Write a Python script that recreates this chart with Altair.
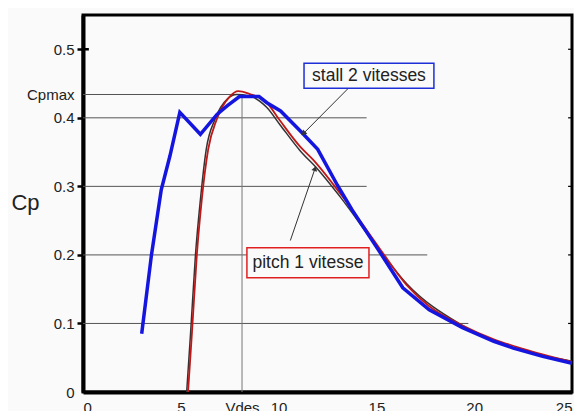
import altair as alt
import pandas as pd

# ---- data ----
stall_x = [3.0, 3.5, 4.0, 4.45, 4.95, 6.0, 6.85, 7.4, 8.0, 9.0, 9.4, 10.1, 11.1, 12.0, 13.0, 13.75, 15.2, 16.35, 17.7, 19.4, 21.0, 22.0, 23.5, 25.0]
stall_y = [0.085, 0.20, 0.295, 0.345, 0.408, 0.376, 0.405, 0.418, 0.431, 0.431, 0.422, 0.410, 0.381, 0.354, 0.302, 0.266, 0.203, 0.152, 0.120, 0.094, 0.074, 0.064, 0.052, 0.042]

pitch_x = [5.37, 5.57, 5.82, 6.07, 6.4, 6.84, 7.5, 7.94, 8.5, 9.4, 10.07, 11.1, 11.76, 13.14, 15.2, 16.55, 17.7, 19.4, 21.0, 22.5, 25.0]
pitch_y = [0.0, 0.086, 0.20, 0.28, 0.354, 0.398, 0.431, 0.439, 0.435, 0.422, 0.396, 0.358, 0.339, 0.29, 0.208, 0.156, 0.125, 0.097, 0.077, 0.063, 0.044]

pitch2_x = [5.3, 5.5, 5.75, 6.0, 6.3, 6.75, 7.4, 7.85, 8.5, 9.4, 10.07, 11.1, 12.0, 13.14, 15.2, 16.55, 19.4, 25.0]
pitch2_y = [0.0, 0.086, 0.2, 0.28, 0.354, 0.398, 0.428, 0.434, 0.432, 0.415, 0.39, 0.352, 0.325, 0.285, 0.205, 0.158, 0.097, 0.045]

cpmax = 0.434
vdes = 8.13
y_ticks = [0, 0.1, 0.2, 0.3, 0.4, 0.5, cpmax]
x_ticks = [0, 5, vdes, 10, 15, 20, 25]

grid_y = [0.1, 0.2, 0.3, 0.4, cpmax]
grid_xend = [19.7, 17.6, 14.5, 14.5, vdes]
right_ticks = [0.1, 0.2, 0.3, 0.4, 0.5]

labels = ["stall 2 vitesses", "pitch 1 vitesse"]
label_colors = ["#1f2fd8", "#e02020"]

BG = "#fafafa"
FONT = "Liberation Sans"

xs = alt.Scale(domain=[0, 25], nice=False, zero=False)
ys = alt.Scale(domain=[0, 0.55], nice=False)

df_stall = pd.DataFrame({"x": stall_x, "y": stall_y})
df_pitch = pd.DataFrame({"x": pitch_x, "y": pitch_y})
df_pitch2 = pd.DataFrame({"x": pitch2_x, "y": pitch2_y})
df_grid = pd.DataFrame({"x0": [0] * len(grid_y), "x1": grid_xend, "y": grid_y})

x_axis = alt.Axis(
    values=x_ticks, title=None, grid=False, format="~g",
    labelExpr=f"abs(datum.value-{vdes})<0.01 ? 'Vdes' : datum.label",
    domainWidth=4, domainColor="black", tickSize=0, labelPadding=8,
    labelFont=FONT, labelFontSize=15, labelColor="#222",
)
y_axis = alt.Axis(
    values=y_ticks, title="Cp", grid=False, format=".1~f",
    labelExpr=f"abs(datum.value-{cpmax})<0.001 ? 'Cpmax' : datum.label",
    domainWidth=4, domainColor="black", tickSize=6, tickWidth=2.5, tickColor="black",
    tickOpacity={"condition": {"test": f"abs(datum.value-{cpmax})<0.001 || datum.value==0", "value": 0}, "value": 1},
    labelPadding=3, labelFont=FONT, labelFontSize=15, labelColor="#222",
    titleAngle=0, titleX=-58, titleY=187, titleAlign="center", titleBaseline="middle",
    titleFont=FONT, titleFontSize=22, titleFontWeight="normal", titleColor="#222",
)

grid = alt.Chart(df_grid).mark_rule(color="#555", strokeWidth=1).encode(
    x=alt.X("x0:Q", scale=xs, axis=x_axis),
    x2="x1:Q",
    y=alt.Y("y:Q", scale=ys, axis=y_axis),
)

vline = alt.Chart(pd.DataFrame({"x": [vdes], "y0": [0], "y1": [cpmax]})).mark_rule(
    color="#777", strokeWidth=1).encode(x=alt.X("x:Q", scale=xs), y=alt.Y("y0:Q", scale=ys), y2="y1:Q")

inner_tick = alt.Chart(pd.DataFrame({"x0": [0], "x1": [0.3], "y": [0.5]})).mark_rule(
    color="black", strokeWidth=2.5).encode(x=alt.X("x0:Q", scale=xs), x2="x1:Q", y=alt.Y("y:Q", scale=ys))

rticks = alt.Chart(pd.DataFrame({"x0": [24.8] * 5, "x1": [25] * 5, "y": right_ticks})).mark_rule(
    color="black", strokeWidth=1.2).encode(x=alt.X("x0:Q", scale=xs), x2="x1:Q", y=alt.Y("y:Q", scale=ys))

l_pitch2 = alt.Chart(df_pitch2).mark_line(color="#333", strokeWidth=1.5, interpolate="monotone").encode(
    x=alt.X("x:Q", scale=xs), y=alt.Y("y:Q", scale=ys))
l_pitch = alt.Chart(df_pitch).mark_line(color="#c01818", strokeWidth=1.8, interpolate="monotone").encode(
    x=alt.X("x:Q", scale=xs), y=alt.Y("y:Q", scale=ys))
l_stall = alt.Chart(df_stall).mark_line(color="#1515e0", strokeWidth=3.5).encode(
    x=alt.X("x:Q", scale=xs), y=alt.Y("y:Q", scale=ys))

# annotation arrows
arr = pd.DataFrame({
    "x0": [13.7, 10.6], "y0": [0.447, 0.221],
    "x1": [11.3, 11.85], "y1": [0.378, 0.325],
    "ang": [224, 19],
})
arrow_lines = alt.Chart(arr).mark_rule(color="#333", strokeWidth=1).encode(
    x=alt.X("x0:Q", scale=xs), y=alt.Y("y0:Q", scale=ys), x2="x1:Q", y2="y1:Q")
arrow_heads = alt.Chart(arr).mark_point(shape="triangle", filled=True, color="#333", size=35, opacity=1).encode(
    x=alt.X("x1:Q", scale=xs), y=alt.Y("y1:Q", scale=ys), angle=alt.Angle("ang:Q", scale=None))

boxes = pd.DataFrame({
    "label": labels, "color": label_colors,
    "x0": [11.3, 8.38], "x1": [17.94, 14.62],
    "y0": [0.4795, 0.2105], "y1": [0.443, 0.1667],
    "tx": [14.62, 11.5], "ty": [0.461, 0.1886],
})
box_rects = alt.Chart(boxes).mark_rect(fill=BG, strokeWidth=1.5).encode(
    x=alt.X("x0:Q", scale=xs), x2="x1:Q", y=alt.Y("y0:Q", scale=ys), y2="y1:Q",
    stroke=alt.Stroke("color:N", scale=None))
box_text = alt.Chart(boxes).mark_text(font=FONT, fontSize=17.5, color="#222", align="center", baseline="middle").encode(
    x=alt.X("tx:Q", scale=xs), y=alt.Y("ty:Q", scale=ys), text="label:N")

chart = alt.layer(
    grid, vline, inner_tick, rticks, l_pitch2, l_pitch, l_stall,
    arrow_lines, arrow_heads, box_rects, box_text,
).properties(
    width=489, height=377,
    autosize=alt.AutoSizeParams(type="none"),
    padding={"left": 75, "top": 7, "right": 2, "bottom": 19},
    background=BG,
).configure_view(stroke="black", strokeWidth=3)

chart.save("out.html", embed_options={"renderer": "svg", "actions": False})
